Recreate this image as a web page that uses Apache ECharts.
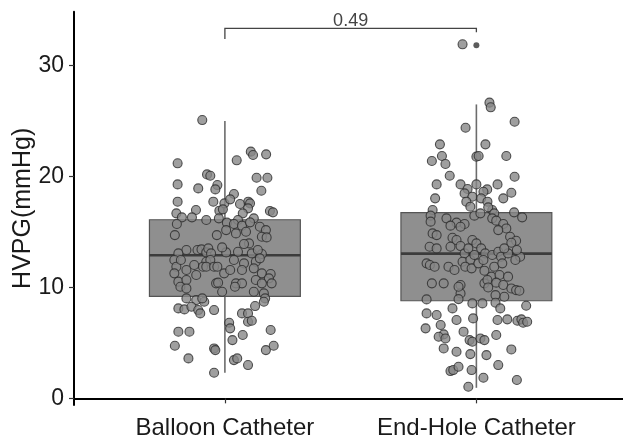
<!DOCTYPE html>
<html><head><meta charset="utf-8">
<script src="https://cdn.jsdelivr.net/npm/echarts@6/dist/echarts.min.js"></script>
<style>html,body{margin:0;padding:0;background:#fff}#c{width:623px;height:442px}</style>
</head><body><div id="c"></div>
<script>
const categories = ['Balloon Catheter', 'End-Hole Catheter'];
const yTicks = [0, 10, 20, 30];
const yTitle = 'HVPG(mmHg)';
// [lower whisker, Q1, median, Q3, upper whisker]
const balloonBox = [2.3, 9.2, 12.9, 16.1, 25.0];
const endHoleBox = [0.95, 8.8, 13.05, 16.75, 26.5];
// outlier: [category position, value]
const outliers = [[2, 31.84]];
// significance bracket: [from category, to category, bar value, left tip, right tip]
const bracket = [1, 2, 33.36, 32.4, 33.0];
const pLabel = '0.49';
// jittered points: [horizontal jitter (category units), HVPG]
const balloonPts = [
[-0.090,25.09],[0.103,22.24],[0.112,21.94],[0.164,22.00],[0.047,21.46],[-0.188,21.19],
[-0.071,20.19],[-0.058,20.07],[0.126,19.89],[0.169,19.89],[-0.188,19.29],[-0.030,19.23],
[-0.106,18.93],[-0.038,18.84],[0.145,18.72],[0.036,18.42],[-0.188,17.73],[-0.046,17.73],
[-0.002,17.58],[0.021,17.94],[0.093,17.73],[0.100,17.58],[0.060,17.52],[0.092,17.13],
[-0.115,16.98],[0.179,16.89],[0.191,16.77],[-0.022,16.92],[-0.008,17.04],[0.071,16.68],
[-0.193,16.68],[-0.024,16.23],[-0.074,16.08],[-0.131,16.32],[-0.171,16.32],[0.052,16.08],
[0.115,16.23],[-0.191,15.72],[0.008,15.84],[0.036,15.72],[0.068,15.57],[0.100,15.87],
[0.139,15.47],[0.163,15.17],[0.147,14.57],[0.166,14.51],[-0.199,14.72],[-0.032,14.72],
[0.005,15.17],[0.044,14.87],[0.084,15.02],[0.096,13.97],[0.076,13.91],[-0.153,13.37],
[-0.185,13.07],[-0.109,13.37],[-0.093,13.43],[-0.074,13.16],[-0.066,13.52],[0.005,13.16],
[-0.011,13.61],[-0.055,13.07],[0.052,13.22],[0.107,13.07],[0.147,13.01],[0.131,13.37],
[-0.201,12.47],[-0.193,11.87],[-0.175,12.47],[-0.074,12.32],[-0.058,12.47],[0.036,12.47],
[0.076,12.17],[0.123,12.32],[0.139,12.62],[-0.122,12.02],[-0.153,11.57],[-0.201,11.27],
[-0.185,10.52],[-0.153,10.67],[-0.114,11.12],[-0.087,11.87],[-0.074,11.87],[-0.043,11.87],
[-0.030,11.87],[-0.003,11.27],[0.021,11.57],[0.068,11.57],[0.115,11.72],[0.147,11.27],
[0.182,11.21],[0.175,10.82],[-0.177,10.06],[-0.153,9.91],[-0.035,10.37],[-0.027,10.43],
[0.044,10.37],[0.068,10.37],[0.123,10.67],[0.147,10.37],[0.186,10.37],[-0.011,9.61],
[0.040,10.06],[0.115,9.61],[0.155,9.46],[-0.153,9.01],[-0.114,8.86],[-0.082,8.71],
[-0.090,9.01],[-0.185,8.11],[-0.161,8.02],[-0.133,8.26],[-0.106,7.96],[-0.098,7.66],
[-0.043,7.96],[0.160,9.01],[0.155,8.71],[0.120,8.32],[0.068,7.66],[0.092,7.66],
[-0.185,6.01],[-0.141,6.01],[0.017,6.82],[0.021,6.31],[0.092,6.91],[0.107,7.00],
[0.071,5.71],[0.030,5.25],[0.182,6.16],[-0.199,4.74],[-0.043,4.50],[-0.038,4.35],
[0.163,4.35],[0.194,4.74],[-0.145,3.60],[0.036,3.45],[0.049,3.60],[0.092,3.00],
[-0.043,2.31]
];
const endHolePts = [
[-0.055,31.92],[0.052,26.66],[0.057,26.24],[0.152,24.94],[-0.043,24.40],[-0.145,22.90],
[0.036,22.90],[-0.137,21.85],[-0.177,21.40],[-0.123,21.13],[0.000,21.79],[0.009,21.85],
[0.119,21.85],[-0.106,20.07],[0.152,19.98],[-0.158,19.29],[-0.063,19.29],[0.000,19.29],
[0.084,19.29],[0.043,18.84],[0.028,18.63],[-0.035,18.87],[-0.047,18.48],[-0.016,18.18],
[-0.164,18.03],[0.139,18.54],[0.107,18.03],[-0.040,17.73],[0.019,18.03],[0.044,17.73],
[-0.174,16.98],[0.063,16.98],[0.047,17.22],[0.071,16.68],[0.150,16.77],[0.182,16.32],
[-0.008,16.47],[0.016,16.68],[-0.024,17.28],[-0.182,16.47],[-0.119,16.23],[-0.079,15.84],
[-0.047,15.72],[-0.063,15.47],[-0.103,15.57],[0.063,16.23],[0.079,16.02],[0.107,15.72],
[0.119,15.32],[0.087,15.17],[0.134,14.57],[0.158,14.21],[0.139,14.03],[-0.182,15.93],
[-0.174,14.87],[-0.158,14.72],[-0.186,13.67],[-0.158,13.52],[-0.095,14.48],[-0.079,14.27],
[-0.103,13.67],[-0.063,13.73],[-0.047,13.07],[-0.016,14.27],[0.000,13.97],[0.019,13.52],
[-0.032,13.52],[-0.055,12.32],[-0.024,12.47],[-0.008,12.92],[0.035,13.07],[0.063,12.92],
[0.087,13.22],[0.098,12.77],[0.126,13.07],[0.174,12.77],[0.161,13.37],[0.111,13.52],
[-0.198,12.17],[-0.185,12.02],[-0.166,11.87],[-0.111,11.87],[-0.087,11.57],[-0.044,11.87],
[-0.019,11.72],[0.008,12.17],[0.028,12.47],[0.032,11.51],[0.071,11.87],[0.103,12.17],
[0.060,10.97],[0.092,11.12],[0.126,10.97],[0.155,12.47],[-0.177,10.37],[-0.130,10.37],
[-0.063,10.22],[0.032,10.37],[0.044,10.67],[0.079,10.43],[0.107,10.22],[0.139,9.91],
[0.158,9.76],[0.171,9.70],[0.111,9.16],[0.076,9.31],[-0.063,9.46],[-0.071,10.06],
[0.047,10.00],[-0.198,8.92],[-0.071,8.95],[-0.016,8.56],[0.024,8.56],[0.076,8.62],
[0.095,8.11],[0.198,8.35],[-0.198,7.66],[-0.158,7.51],[-0.095,8.11],[-0.079,7.06],
[-0.013,7.21],[0.084,7.06],[0.123,7.12],[0.163,7.00],[0.179,7.12],[0.186,6.82],
[0.202,6.91],[-0.202,6.31],[-0.142,6.61],[-0.130,5.77],[-0.150,5.55],[-0.123,5.40],
[-0.051,6.01],[-0.027,5.25],[-0.016,5.10],[0.016,5.40],[0.032,5.25],[0.079,5.71],
[-0.130,4.50],[-0.079,4.20],[-0.024,3.99],[0.040,3.90],[0.139,4.41],[0.087,3.00],
[-0.103,2.46],[-0.092,2.55],[-0.071,2.85],[-0.019,2.55],[0.028,1.86],[0.161,1.65],
[-0.032,1.05]
];

const FONT = '"Liberation Sans", Arial, sans-serif';
const chart = echarts.init(document.getElementById('c'), null, {renderer: 'canvas'});

const boxData = [[1].concat(balloonBox), [2].concat(endHoleBox)];
const pointData = balloonPts.map(p => [1 + p[0], p[1]])
  .concat(endHolePts.map(p => [2 + p[0], p[1]]));

function renderBox(params, api) {
  const x = api.value(0);
  const w = api.size([0.6, 0])[0];
  const lo = api.coord([x, api.value(1)]);
  const q1 = api.coord([x, api.value(2)]);
  const med = api.coord([x, api.value(3)]);
  const q3 = api.coord([x, api.value(4)]);
  const hi = api.coord([x, api.value(5)]);
  return {type: 'group', children: [
    {type: 'line', shape: {x1: lo[0], y1: lo[1], x2: q1[0], y2: q1[1]}, style: {stroke: '#6c6c6c', lineWidth: 1.6}},
    {type: 'line', shape: {x1: q3[0], y1: q3[1], x2: hi[0], y2: hi[1]}, style: {stroke: '#6c6c6c', lineWidth: 1.6}},
    {type: 'rect', shape: {x: q3[0] - w / 2, y: q3[1], width: w, height: q1[1] - q3[1]}, style: {fill: '#8f8f8f', stroke: '#555', lineWidth: 1.2}},
    {type: 'line', shape: {x1: med[0] - w / 2, y1: med[1], x2: med[0] + w / 2, y2: med[1]}, style: {stroke: '#3c3c3c', lineWidth: 2.6}}
  ]};
}

function renderBracket(params, api) {
  const a = api.coord([api.value(0), api.value(2)]);
  const b = api.coord([api.value(1), api.value(2)]);
  const ta = api.coord([api.value(0), api.value(3)]);
  const tb = api.coord([api.value(1), api.value(4)]);
  return {type: 'group', children: [
    {type: 'polyline', shape: {points: [ta, a, b, tb]}, style: {stroke: '#444', lineWidth: 1.3, fill: null}},
    {type: 'text', x: (a[0] + b[0]) / 2, y: a[1] + 1.5, style: {text: pLabel, fill: '#444', font: '18px ' + FONT, align: 'center', verticalAlign: 'bottom'}}
  ]};
}

chart.setOption({
  animation: false,
  backgroundColor: '#fff',
  grid: {left: 74, top: 11.7, right: 0, height: 393.3, containLabel: false},
  xAxis: {
    type: 'value', min: 0.4, max: 2.583,
    axisLine: {show: true, lineStyle: {color: '#000', width: 2}},
    axisTick: {show: true, customValues: [1, 2], length: 5, lineStyle: {color: '#333', width: 1.2}},
    axisLabel: {customValues: [1, 2], formatter: v => categories[Math.round(v) - 1], color: '#1a1a1a', fontSize: 24, fontFamily: FONT, margin: 11},
    splitLine: {show: false}
  },
  yAxis: {
    type: 'value', min: -0.6, max: 34.86,
    name: yTitle, nameLocation: 'middle', nameGap: 38, nameRotate: 90, nameMoveOverlap: false,
    nameTextStyle: {color: '#1a1a1a', fontSize: 25, fontFamily: FONT},
    axisLine: {show: true, lineStyle: {color: '#000', width: 2}},
    axisTick: {show: true, customValues: yTicks, length: 5, lineStyle: {color: '#333', width: 1.2}},
    axisLabel: {customValues: yTicks, color: '#1a1a1a', fontSize: 23, fontFamily: FONT, margin: 10},
    splitLine: {show: false}
  },
  series: [
    {type: 'custom', renderItem: renderBox, data: boxData, z: 1, silent: true, clip: false},
    {type: 'scatter', data: pointData, symbol: 'circle', symbolSize: 9, z: 2, silent: true,
      itemStyle: {color: '#878787', borderColor: '#2b2b2b', borderWidth: 1.1}},
    {type: 'scatter', data: outliers, symbol: 'circle', symbolSize: 6, z: 3, silent: true,
      itemStyle: {color: '#333'}},
    {type: 'custom', renderItem: renderBracket, data: [bracket], z: 4, silent: true, clip: false}
  ]
});
</script></body></html>
